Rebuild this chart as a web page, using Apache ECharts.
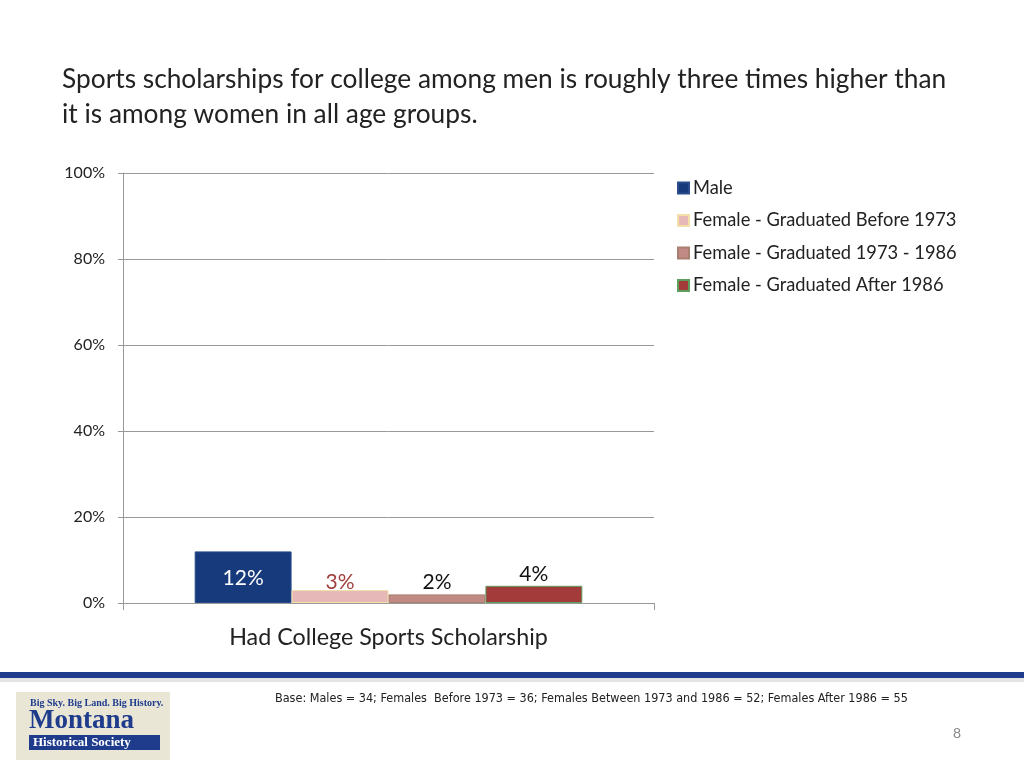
<!DOCTYPE html>
<html><head><meta charset="utf-8">
<script src="https://cdn.jsdelivr.net/npm/echarts@6/dist/echarts.min.js"></script>
<style>html,body{margin:0;padding:0;background:#fff}#c{width:1024px;height:768px}</style>
</head><body><div id="c"></div>
<script>
var categories = ['Had College Sports Scholarship'];
var seriesNames = ['Male','Female - Graduated Before 1973','Female - Graduated 1973 - 1986','Female - Graduated After 1986'];
var maleVals = [12];
var femBeforeVals = [3];
var femMidVals = [2];
var femAfterVals = [4];
var yTicks = [0,20,40,60,80,100];

var FONT = 'Lato, "Open Sans", sans-serif';
var chart = echarts.init(document.getElementById('c'));
function bar(name, data, color, border, labelPos, labelColor, dist){
  return {
    name: name, type: 'bar', data: data, barGap: '0%', barCategoryGap: '27%',
    itemStyle: {color: color, borderColor: border, borderWidth: 1},
    label: {show: true, position: labelPos, distance: dist, formatter: '{c}%', color: labelColor, fontSize: 21, fontFamily: FONT},
    emphasis: {disabled: true}
  };
}
chart.setOption({
  animation: false,
  title: {
    text: 'Sports scholarships for college among men is roughly three times higher than\nit is among women in all age groups.',
    left: 57, top: 57,
    textStyle: {fontSize: 26.3, fontWeight: 'normal', color: '#222', fontFamily: FONT, lineHeight: 35}
  },
  legend: {
    orient: 'vertical', left: 672, top: 173, icon: 'rect', itemWidth: 11, itemHeight: 11, itemGap: 12.5,
    textStyle: {fontSize: 18.3, color: '#222', fontFamily: FONT, lineHeight: 20, padding: [0,0,0,-1]},
    data: seriesNames
  },
  grid: {left: 123, right: 370, top: 173, bottom: 165, containLabel: false},
  xAxis: {
    type: 'category', data: categories,
    axisLine: {lineStyle: {color: '#999'}},
    axisTick: {show: true, length: 7, lineStyle: {color: '#999'}},
    axisLabel: {fontSize: 23.3, color: '#222', fontFamily: FONT, margin: 23}
  },
  yAxis: {
    type: 'value', min: 0, max: 100, interval: 20,
    axisLine: {show: true, lineStyle: {color: '#999'}},
    axisTick: {show: true, length: 5, lineStyle: {color: '#999'}},
    splitLine: {lineStyle: {color: '#999'}},
    axisLabel: {fontSize: 16, color: '#222', fontFamily: FONT, margin: 18, formatter: function(v){return yTicks.indexOf(v)>=0 ? v+'%' : '';}}
  },
  series: [
    bar(seriesNames[0], maleVals, '#173a7c', '#2a4c8c', 'insideTop', '#ffffff', 16),
    bar(seriesNames[1], femBeforeVals, '#e6b9b8', '#f2e0a8', 'top', '#a0403e', -3),
    bar(seriesNames[2], femMidVals, '#c28a84', '#a88070', 'top', '#111', 2),
    bar(seriesNames[3], femAfterVals, '#a33b3b', '#5c9e5c', 'top', '#111', 1)
  ],
  graphic: [
    {type: 'rect', shape: {x: 0, y: 678, width: 1024, height: 4}, style: {fill: '#e4e4e4'}, silent: true},
    {type: 'rect', shape: {x: 0, y: 672, width: 1024, height: 6}, style: {fill: '#1f3c8c'}, silent: true},
    {type: 'text', left: 275, top: 692, style: {text: 'Base: Males = 34; Females  Before 1973 = 36; Females Between 1973 and 1986 = 52; Females After 1986 = 55', fontSize: 12.5, fill: '#222', fontFamily: '"Liberation Sans Narrow", "DejaVu Sans Condensed", sans-serif'}},
    {type: 'text', left: 953, top: 726, style: {text: '8', fontSize: 14, fill: '#888', fontFamily: FONT}},
    {type: 'rect', shape: {x: 16, y: 692, width: 154, height: 68}, style: {fill: '#e9e6d6'}},
    {type: 'text', left: 30, top: 698, style: {text: 'Big Sky. Big Land. Big History.', fontSize: 10, fill: '#1f3c8c', fontFamily: '"Liberation Serif", serif', fontWeight: 'bold'}},
    {type: 'text', left: 29, top: 708, style: {text: 'Montana', fontSize: 27, fill: '#1f3c8c', fontFamily: '"Liberation Serif", serif', fontWeight: 'bold'}},
    {type: 'rect', shape: {x: 29, y: 735, width: 131, height: 15}, style: {fill: '#1f3c8c'}},
    {type: 'text', left: 33, top: 736, style: {text: 'Historical Society', fontSize: 13, fill: '#fff', fontFamily: '"Liberation Serif", serif', fontWeight: 'bold'}}
  ]
});
</script></body></html>
